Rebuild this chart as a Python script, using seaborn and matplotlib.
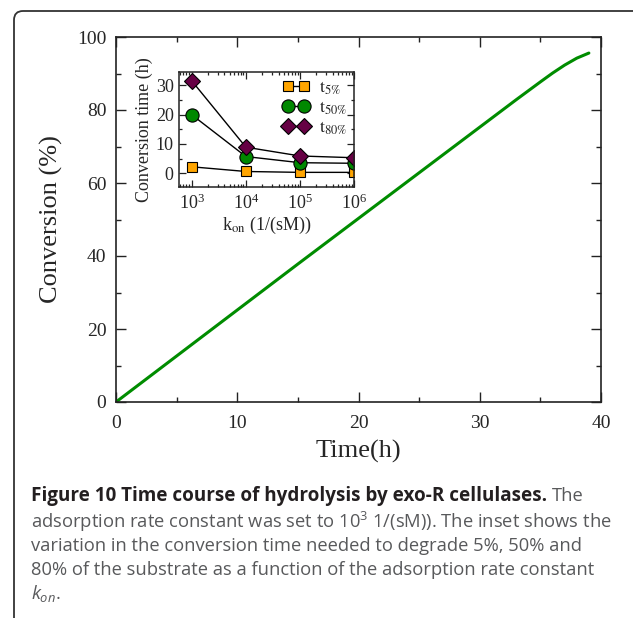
import numpy as np
import pandas as pd
import matplotlib
matplotlib.use('Agg')
import matplotlib.pyplot as plt
import seaborn as sns
from matplotlib.patches import FancyBboxPatch
from matplotlib.ticker import MultipleLocator, LogLocator, NullFormatter

# main curve: conversion vs time
time_h = [0, 5, 10, 15, 20, 25, 30, 33, 35, 36, 37, 38, 39]
conversion = [0, 12.6, 25.2, 37.8, 50.3, 62.8, 75.3, 82.8, 87.7, 90.1, 92.3, 94.2, 95.6]

# inset: conversion time vs adsorption rate constant
k_on = [1e3, 1e4, 1e5, 1e6]
t5 = [2.2, 0.6, 0.3, 0.3]
t50 = [20.0, 5.7, 3.6, 3.4]
t80 = [31.6, 8.9, 5.9, 5.3]

sns.set_style('ticks')
plt.rcParams['font.family'] = ['Liberation Serif', 'DejaVu Serif']
plt.rcParams['mathtext.fontset'] = 'stix'
plt.rcParams['mathtext.rm'] = 'Open Sans'
plt.rcParams['mathtext.it'] = 'Open Sans:italic'
plt.rcParams['mathtext.bf'] = 'Open Sans:bold'

fig = plt.figure(figsize=(6.33, 6.18), dpi=100)
W, H = 633, 618

def box(l, t, r, b):
    return [l / W, 1 - b / H, (r - l) / W, (b - t) / H]

# frame around the whole figure
frame = FancyBboxPatch((0.14, -0.2), 6.6, 6.18 - 0.11 + 0.2,
                       boxstyle='round,pad=0,rounding_size=0.09',
                       transform=fig.dpi_scale_trans, facecolor='none',
                       edgecolor='#333333', linewidth=1.3)
fig.add_artist(frame)

# main plot
ax = fig.add_axes(box(116, 37, 601, 402))
df = pd.DataFrame({'t': time_h, 'c': conversion})
sns.lineplot(data=df, x='t', y='c', ax=ax, color='#008c00', linewidth=2.2)
ax.set_xlim(0, 40)
ax.set_ylim(0, 100)
ax.xaxis.set_major_locator(MultipleLocator(10))
ax.xaxis.set_minor_locator(MultipleLocator(5))
ax.yaxis.set_major_locator(MultipleLocator(20))
ax.yaxis.set_minor_locator(MultipleLocator(10))
ax.tick_params(which='both', direction='in', top=True, right=True, width=1.0, color='#222222')
ax.tick_params(which='major', length=7, labelsize=14, pad=7)
ax.tick_params(axis='x', which='major', pad=9)
ax.tick_params(which='minor', length=3.5)
for s in ax.spines.values():
    s.set_linewidth(1.2)
    s.set_color('#222222')
ax.set_xlabel('Time(h)', fontsize=19, labelpad=6)
ax.set_ylabel('Conversion (%)', fontsize=19, labelpad=10)

# inset
ins = fig.add_axes(box(179.3, 72.3, 354.3, 186.7))
series = [(t5, 's', '#ffa500', 7, r'$\mathrm{t}_{5\%}$'),
          (t50, 'o', '#008800', 9.5, r'$\mathrm{t}_{50\%}$'),
          (t80, 'D', '#660044', 8, r'$\mathrm{t}_{80\%}$')]
for vals, mk, col, ms, lab in series:
    sns.lineplot(x=k_on, y=vals, ax=ins, color='black', linewidth=1.0,
                 marker=mk, markersize=ms, markerfacecolor=col,
                 markeredgecolor='black', markeredgewidth=0.8, label=lab)
ins.set_xscale('log')
ins.set_xlim(590, 1e6)
ins.set_ylim(-4.6, 34.5)
ins.xaxis.set_major_locator(LogLocator(base=10, numticks=10))
ins.xaxis.set_minor_locator(LogLocator(base=10, subs=np.arange(2, 10), numticks=20))
ins.xaxis.set_minor_formatter(NullFormatter())
ins.yaxis.set_major_locator(MultipleLocator(10))
ins.yaxis.set_minor_locator(MultipleLocator(5))
ins.tick_params(which='both', direction='in', top=True, right=True, width=0.9, color='#222222')
ins.tick_params(which='major', length=5, labelsize=13, pad=4)
ins.tick_params(axis='x', which='major', pad=5)
ins.tick_params(which='minor', length=2.5)
for s in ins.spines.values():
    s.set_linewidth(1.1)
    s.set_color('#222222')
ins.set_xlabel(r'k$_{\mathrm{on}}$ (1/(sM))', fontsize=13, labelpad=1)
ins.set_ylabel('Conversion time (h)', fontsize=13, labelpad=2)
ins.legend(loc='upper right', frameon=False, fontsize=13, numpoints=2,
           handlelength=1.5, handletextpad=0.5, labelspacing=0.15,
           borderaxespad=0.1, borderpad=0.3)

# caption
grey = '#58595b'
cap_size = 13.2
x0 = 31 / W
bold = fig.text(x0, 1 - 496 / H, 'Figure 10 Time course of hydrolysis by exo-R cellulases.',
                family='Open Sans', weight='bold', color='#231f20', fontsize=13.6, va='center')
fig.canvas.draw()
bb = bold.get_window_extent()
fig.text(bb.x1 / W + 0.008, 1 - 496 / H, 'The', family='Open Sans', color=grey,
         fontsize=cap_size, va='center')
lines = [(522, 'adsorption rate constant was set to 10$^{3}$ 1/(sM)). The inset shows the'),
         (546, 'variation in the conversion time needed to degrade 5%, 50% and'),
         (570, '80% of the substrate as a function of the adsorption rate constant'),
         (594, r'$\mathit{k}_{\mathit{on}}$.')]
for y, txt in lines:
    t = fig.text(x0, 1 - y / H, txt, family='Open Sans', color=grey,
                 fontsize=cap_size, va='center')
    t.set_math_fontfamily('custom')

fig.savefig('out.png', dpi=100)
